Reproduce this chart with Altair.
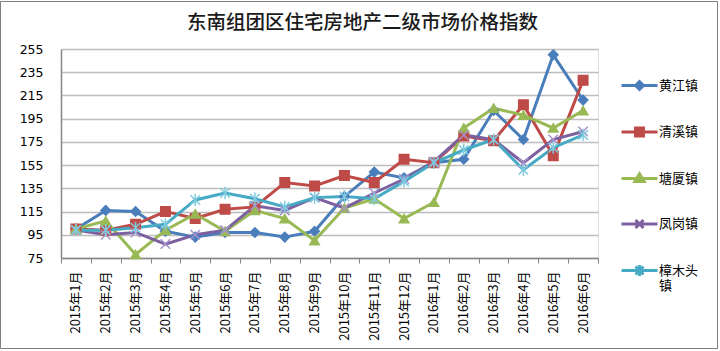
import altair as alt
import pandas as pd

months = ["2015年1月", "2015年2月", "2015年3月", "2015年4月", "2015年5月", "2015年6月",
          "2015年7月", "2015年8月", "2015年9月", "2015年10月", "2015年11月", "2015年12月",
          "2016年1月", "2016年2月", "2016年3月", "2016年4月", "2016年5月", "2016年6月"]
series_names = ["黄江镇", "清溪镇", "塘厦镇", "凤岗镇", "樟木头镇"]

huangjiang = [100, 116, 115, 98, 93, 97, 97, 93, 98, 128, 149, 144, 157, 160, 202, 177, 250, 211]
qingxi = [100, 99, 104, 115, 109, 117, 119, 140, 137, 146, 140, 160, 157, 180, 176, 207, 163, 228]
tangxia = [100, 107, 78, 99, 113, 98, 116, 109, 90, 118, 126, 109, 123, 187, 204, 198, 187, 202]
fenggang = [99, 95, 97, 87, 95, 99, 120, 116, 127, 118, 131, 143, 158, 181, 177, 157, 177, 184]
zhangmutou = [99, 99, 101, 104, 125, 131, 126, 119, 127, 128, 126, 141, 157, 168, 177, 151, 170, 181]

y_ticks = [75, 95, 115, 135, 155, 175, 195, 215, 235, 255]
title_text = "东南组团区住宅房地产二级市场价格指数"

colors = ["#4A7EBB", "#BE4B48", "#98B954", "#7D60A0", "#46AAC5"]
marker_strokes = ["#4A7EBB", "#BE4B48", "#98B954", "#A592C8", "#7FCBE0"]
marker_shapes = ["diamond", "square", "triangle-up",
                 "M-1,-1L1,1M-1,1L1,-1",
                 "M-1,-1L1,1M-1,1L1,-1M0,-1.3L0,1.3"]
marker_sizes = [90, 90, 110, 90, 110]

legend_paths = [
    "M-1,0H1M0,-0.22L0.22,0L0,0.22L-0.22,0Z",
    "M-1,0H1M-0.22,-0.22H0.22V0.22H-0.22Z",
    "M-1,0H1M0,-0.26L0.26,0.16H-0.26Z",
    "M-1,0H1M-0.22,-0.22L0.22,0.22M-0.22,0.22L0.22,-0.22",
    "M-1,0H1M-0.22,-0.22L0.22,0.22M-0.22,0.22L0.22,-0.22M0,-0.3V0.3",
]

all_values = [huangjiang, qingxi, tangxia, fenggang, zhangmutou]
rows = []
for name, vals in zip(series_names, all_values):
    for m, v in zip(months, vals):
        rows.append({"month": m, "series": name, "marker": name, "value": v})
df = pd.DataFrame(rows)

sym_expr = ""
for name, p in zip(series_names[:-1], legend_paths[:-1]):
    sym_expr += f"datum.value == '{name}' ? '{p}' : "
sym_expr += f"'{legend_paths[-1]}'"

legend = alt.Legend(
    title=None, orient="none", legendX=559, legendY=17, padding=0,
    symbolType=alt.ExprRef(expr=sym_expr),
    symbolSize=1296, symbolStrokeWidth=3,
    symbolFillColor=alt.ExprRef(expr="scale('color', datum.value)"),
    symbolStrokeColor=alt.ExprRef(expr="scale('color', datum.value)"),
    labelFont="Noto Sans CJK SC", labelFontSize=13, labelColor="#000000",
    labelOffset=0, rowPadding=16.5,
    labelExpr="datum.label == '樟木头镇' ? ['樟木头', '镇'] : datum.label",
)

x_enc = alt.X("month:O", sort=months,
              scale=alt.Scale(type="band", paddingInner=0, paddingOuter=0),
              bandPosition=0.5,
              axis=alt.Axis(title=None, labelAngle=-90, tickBand="extent", grid=False,
                            labelFont="Noto Sans CJK SC", labelFontSize=13, labelColor="#000000",
                            domainColor="#868686", tickColor="#868686", tickSize=5,
                            labelPadding=8, domainWidth=1.5))
y_enc = alt.Y("value:Q", scale=alt.Scale(domain=[75, 255], nice=False, zero=False),
              axis=alt.Axis(values=y_ticks, title=None, grid=True, gridColor="#BDBDBD",
                            gridWidth=1.5, ticks=False, labelFont="DejaVu Sans",
                            labelFontSize=12.5, labelColor="#000000", labelPadding=18,
                            domainColor="#868686", domainWidth=1.5))
color_enc = alt.Color("series:N", sort=series_names,
                      scale=alt.Scale(domain=series_names, range=colors), legend=legend)

base = alt.Chart(df)
lines = base.mark_line(strokeWidth=3).encode(x=x_enc, y=y_enc, color=color_enc)
points = base.mark_point(filled=True, strokeWidth=1.5, opacity=1).encode(
    x=x_enc, y=y_enc, color=color_enc,
    shape=alt.Shape("marker:N", sort=series_names,
                    scale=alt.Scale(range=marker_shapes), legend=None),
    size=alt.Size("marker:N", sort=series_names,
                  scale=alt.Scale(range=marker_sizes), legend=None),
    stroke=alt.Stroke("marker:N", sort=series_names,
                      scale=alt.Scale(range=marker_strokes), legend=None),
)

frame = alt.Chart(pd.DataFrame({"a": [0]})).mark_rect(fill="transparent", stroke="#7F7F7F",
                                                        strokeWidth=1).encode(
    x=alt.value(-60.5), x2=alt.value(656.5), y=alt.value(-47.5), y2=alt.value(299.5))

chart = alt.layer(frame, lines, points).properties(
    width=537, height=209,
    autosize=alt.AutoSizeParams(type="none"),
    padding={"left": 61, "top": 49, "right": 122, "bottom": 93},
    title=alt.Title(title_text, font="Noto Sans CJK SC", fontSize=19.5, fontWeight=500,
                    color="#1A1A1A", anchor="middle", dx=33, dy=32, offset=0),
).configure_view(stroke=None).configure(background="white")

chart.save("out.html", embed_options={"renderer": "svg", "actions": False})
